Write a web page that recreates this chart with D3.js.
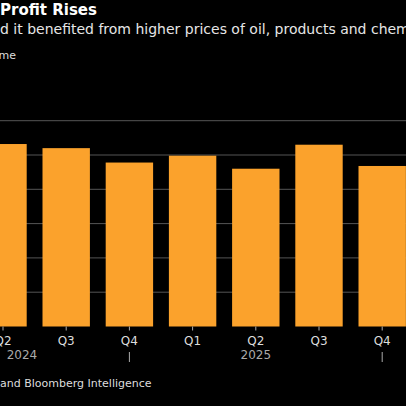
<!DOCTYPE html>
<html lang="en">
<head>
    <meta charset="UTF-8">
    <script src="https://cdn.jsdelivr.net/npm/d3@7"></script>
    <style>
        html, body { margin: 0; padding: 0; background: #000; overflow: hidden; }
        svg { display: block; font-family: "DejaVu Sans", sans-serif; }
    </style>
</head>
<body>
    <div class="fig"></div>
    <script>
        // quarterly profit, billions
        const quarters = ["Q2", "Q3", "Q4", "Q1", "Q2", "Q3", "Q4"];
        const years = ["2024", "2024", "2024", "2025", "2025", "2025", "2025"];
        const profit = [26.6, 26.0, 23.9, 24.9, 23.0, 26.5, 23.4];
        const yTicks = [5, 10, 15, 20, 25, 30];
        const yearLabels = ["2024", "2025"];

        const width = 406, height = 406;
        const ids = quarters.map((q, i) => years[i] + q);

        const svg = d3.select(".fig").append("svg")
            .attr("width", width)
            .attr("height", height);

        const x = d3.scaleBand()
            .domain(ids)
            .range([-28.6, 413.8])
            .paddingInner(0.25)
            .paddingOuter(0.125);

        const y = d3.scaleLinear()
            .domain([0, 30])
            .range([326.5, 120.7]);

        // grid
        svg.selectAll("line.grid")
            .data(yTicks)
            .enter()
            .append("line")
            .attr("class", "grid")
            .attr("x1", 0)
            .attr("x2", width)
            .attr("y1", d => y(d))
            .attr("y2", d => y(d))
            .attr("stroke", "#555")
            .attr("stroke-width", 1);

        // bars
        svg.selectAll("rect.bar")
            .data(profit)
            .enter()
            .append("rect")
            .attr("class", "bar")
            .attr("x", (d, i) => x(ids[i]))
            .attr("width", x.bandwidth())
            .attr("y", d => y(d))
            .attr("height", d => y(0) - y(d))
            .attr("fill", "#fba22c");

        const cx = id => x(id) + x.bandwidth() / 2;

        // ticks + quarter labels
        svg.selectAll("line.tick")
            .data(ids)
            .enter()
            .append("line")
            .attr("x1", d => cx(d))
            .attr("x2", d => cx(d))
            .attr("y1", y(0))
            .attr("y2", y(0) + 4)
            .attr("stroke", "#aaa");

        svg.selectAll("text.q")
            .data(ids)
            .enter()
            .append("text")
            .attr("x", d => cx(d))
            .attr("y", 345)
            .attr("text-anchor", "middle")
            .attr("fill", "#ddd")
            .attr("font-size", 12)
            .text((d, i) => quarters[i]);

        // year separators at Q4
        const q4s = ids.filter(d => d.endsWith("Q4"));
        svg.selectAll("line.sep")
            .data(q4s)
            .enter()
            .append("line")
            .attr("x1", d => cx(d))
            .attr("x2", d => cx(d))
            .attr("y1", 352)
            .attr("y2", 362)
            .attr("stroke", "#aaa");

        svg.selectAll("text.year")
            .data(yearLabels)
            .enter()
            .append("text")
            .attr("x", d => Math.max(cx(d + "Q2"), 22))
            .attr("y", 359)
            .attr("text-anchor", "middle")
            .attr("fill", "#aaa")
            .attr("font-size", 12)
            .text(d => d);

        // titles
        svg.append("text")
            .attr("x", 0).attr("y", 15)
            .attr("fill", "#fff")
            .attr("font-size", 15)
            .attr("font-weight", "bold")
            .text("Profit Rises");

        svg.append("text")
            .attr("x", 0).attr("y", 34)
            .attr("fill", "#e6e6e6")
            .attr("font-size", 14)
            .text("d it benefited from higher prices of oil, products and chemicals");

        svg.append("text")
            .attr("x", 16).attr("y", 59)
            .attr("text-anchor", "end")
            .attr("fill", "#ddd")
            .attr("font-size", 11)
            .text("Net income");

        svg.append("text")
            .attr("x", 0).attr("y", 387)
            .attr("fill", "#ddd")
            .attr("font-size", 11)
            .text("and Bloomberg Intelligence");
    </script>
</body>
</html>
